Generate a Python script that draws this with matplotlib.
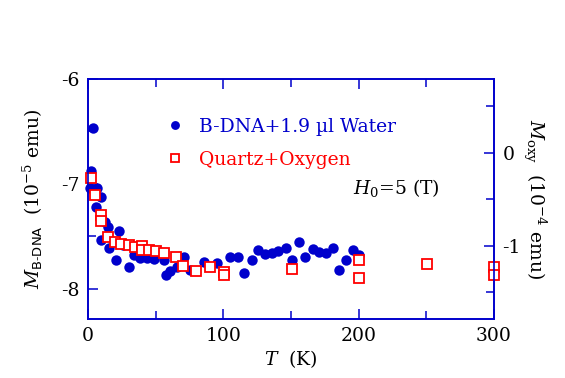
import numpy as np
import matplotlib
matplotlib.use("Agg")
import matplotlib.pyplot as plt
from matplotlib.ticker import MultipleLocator

# B-DNA + water, left axis (10^-5 emu)
t_dna = [1.5, 2.5, 3.5, 5.9, 6.4, 9.9, 9.9, 12.8, 14.8, 15.8, 20.7, 23.2, 26.2, 30.1,
         33.6, 38.5, 43.5, 48.4, 55.8, 57.8, 60.7, 65.7, 70.6, 75.6, 85.4, 95.3,
         105.0, 110.6, 115.6, 121.0, 125.9, 130.9, 135.8, 140.7, 146.2, 150.6, 156.0,
         160.5, 165.9, 170.4, 175.8, 180.7, 185.7, 190.6, 195.6, 200.5]
m_dna = [-7.04, -6.88, -6.47, -7.22, -7.04, -7.13, -7.54, -7.36, -7.41, -7.61, -7.73, -7.45,
         -7.58, -7.79, -7.68, -7.71, -7.71, -7.72, -7.73, -7.87, -7.83, -7.79, -7.70, -7.82,
         -7.75, -7.76, -7.70, -7.70, -7.85, -7.73, -7.63, -7.67, -7.66, -7.64, -7.61, -7.73,
         -7.56, -7.70, -7.62, -7.65, -7.66, -7.61, -7.82, -7.73, -7.63, -7.68]

# quartz + oxygen, right axis (10^-4 emu)
t_oxy = [2.0, 4.9, 9.9, 9.9, 14.8, 20.2, 24.7, 30.1, 35.0, 40.0, 40.0, 44.9, 50.4, 55.8,
         65.2, 70.1, 80.0, 90.4, 100.2, 100.2, 150.6, 200.5, 200.5, 250.4, 300.0, 300.0]
m_oxy = [-0.27, -0.45, -0.67, -0.73, -0.90, -0.96, -0.98, -0.99, -1.01, -1.00, -1.04, -1.04,
         -1.05, -1.07, -1.115, -1.22, -1.265, -1.23, -1.28, -1.315, -1.244, -1.15, -1.344,
         -1.194, -1.222, -1.315]

blue = "#0000cc"
red = "#ff0000"

plt.rcParams["font.family"] = "DejaVu Serif"
plt.rcParams["mathtext.fontset"] = "dejavuserif"
plt.rcParams["axes.unicode_minus"] = False

fig = plt.figure(figsize=(5.65, 3.78), dpi=100)
ax = fig.add_axes([0.1558, 0.1561, 0.7186, 0.635])
ax2 = ax.twinx()

h1, = ax.plot(t_dna, m_dna, "o", color=blue, ms=7.5, mew=0, clip_on=False,
              label="B-DNA+1.9 \u00b5l Water")
h2, = ax2.plot(t_oxy, m_oxy, "s", mfc="white", mec=red, ms=7.5, mew=1.3, clip_on=False,
               label="Quartz+Oxygen")

ax.set_xlim(0, 300)
ax.set_ylim(-8.29, -6.0)
ax2.set_ylim(-1.785, 0.796)

ax.xaxis.set_major_locator(MultipleLocator(100))
ax.xaxis.set_minor_locator(MultipleLocator(50))
ax.yaxis.set_major_locator(MultipleLocator(1))
ax.yaxis.set_minor_locator(MultipleLocator(0.5))
ax2.yaxis.set_major_locator(MultipleLocator(1))
ax2.yaxis.set_minor_locator(MultipleLocator(0.5))

for a in (ax, ax2):
    for s in a.spines.values():
        s.set_color(blue)
        s.set_linewidth(1.2)
ax.tick_params(which="both", direction="in", top=True, right=False, color=blue,
               labelsize=13.5, pad=6)
ax.tick_params(which="major", length=7, width=1.1)
ax.tick_params(which="minor", length=6, width=1.1)
ax2.tick_params(which="both", direction="in", color=blue, labelsize=13.5, pad=6)
ax2.tick_params(which="major", length=7, width=1.1)
ax2.tick_params(which="minor", length=6, width=1.1)

ax.set_xlabel(r"$T$  (K)", fontsize=13.5, labelpad=2)
ax.set_ylabel(r"$M_{\mathsf{B\text{-}DNA}}$  (10$^{-5}$ emu)", fontsize=13.5, labelpad=12)
ax2.set_ylabel(r"$M_{\rm oxy}$  (10$^{-4}$ emu)", fontsize=13.5, rotation=-90, labelpad=20)

ax.text(0.653, 0.546, r"$H_0$=5 (T)", transform=ax.transAxes, fontsize=13.5, va="center")

ax2.legend(handles=[h1, h2], loc="upper left", bbox_to_anchor=(0.172, 0.87), frameon=False,
           fontsize=13.5, labelcolor=[blue, red], handlelength=1.0, handletextpad=0.8,
           labelspacing=0.8, borderaxespad=0, markerscale=0.85)

fig.savefig("out.png", dpi=100)
